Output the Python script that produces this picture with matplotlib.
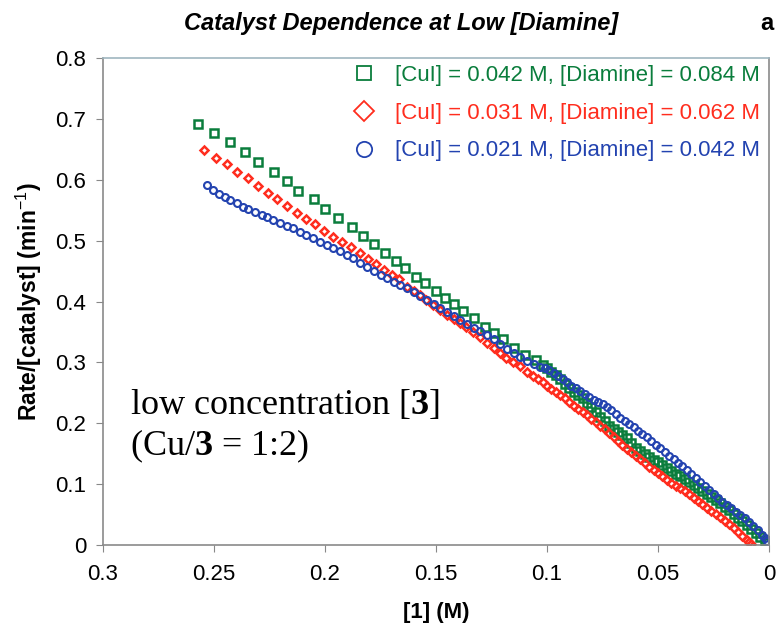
import matplotlib
matplotlib.use("Agg")
import matplotlib.pyplot as plt
from matplotlib.lines import Line2D
from matplotlib.ticker import FormatStrFormatter

# [1] (M) and rate/[catalyst] (min^-1)
green_x = [0.257, 0.250, 0.243, 0.236, 0.230, 0.223, 0.217, 0.212, 0.205, 0.200,
           0.194, 0.188, 0.183, 0.178, 0.173, 0.168, 0.164, 0.159, 0.155, 0.150,
           0.146, 0.142, 0.138, 0.133, 0.128, 0.124, 0.120, 0.115, 0.110, 0.105,
           0.102, 0.100,
           0.098, 0.096, 0.094, 0.092, 0.090, 0.088, 0.086, 0.084, 0.082, 0.080,
           0.078, 0.076, 0.074, 0.072, 0.070, 0.068, 0.066, 0.064, 0.062, 0.060,
           0.058, 0.056, 0.054, 0.052, 0.050, 0.048, 0.046, 0.044, 0.042, 0.040,
           0.038, 0.036, 0.034, 0.032, 0.030, 0.028, 0.026, 0.024, 0.022, 0.020,
           0.018, 0.016, 0.014, 0.012, 0.010, 0.008, 0.006, 0.004, 0.002, 0.001]
green_y = [0.691, 0.677, 0.662, 0.645, 0.629, 0.612, 0.598, 0.581, 0.568, 0.552,
           0.537, 0.522, 0.507, 0.494, 0.480, 0.466, 0.455, 0.440, 0.430, 0.417,
           0.406, 0.396, 0.384, 0.373, 0.358, 0.348, 0.338, 0.323, 0.312, 0.304,
           0.296, 0.290,
           0.284, 0.279, 0.273, 0.265, 0.258, 0.252, 0.247, 0.242, 0.234, 0.226,
           0.219, 0.211, 0.203, 0.196, 0.191, 0.186, 0.181, 0.176, 0.168, 0.160,
           0.154, 0.150, 0.145, 0.140, 0.136, 0.131, 0.126, 0.122, 0.117, 0.113,
           0.109, 0.104, 0.099, 0.094, 0.089, 0.084, 0.079, 0.074, 0.069, 0.063,
           0.057, 0.051, 0.045, 0.039, 0.033, 0.027, 0.020, 0.013, 0.006, 0.003]

red_x = [0.2545, 0.2491, 0.2441, 0.2396, 0.2347, 0.2302, 0.2257, 0.2216, 0.2171, 0.2126,
         0.2086, 0.2045, 0.2005, 0.1964, 0.1923, 0.1883, 0.1842, 0.1806, 0.1770, 0.1735,
         0.1700, 0.1665, 0.1631, 0.1600, 0.1572, 0.1543, 0.1514, 0.1482, 0.1450, 0.1420,
         0.1392, 0.1363, 0.1333, 0.1302, 0.1270, 0.1240, 0.1212, 0.1183, 0.1153, 0.1120,
         0.1090, 0.1063,
         0.104, 0.102, 0.100, 0.098, 0.096, 0.094, 0.092, 0.090, 0.088, 0.086,
         0.084, 0.082, 0.080, 0.078, 0.076, 0.074, 0.072, 0.070, 0.068, 0.066,
         0.064, 0.062, 0.060, 0.058, 0.056, 0.054, 0.052, 0.050, 0.048, 0.046,
         0.044, 0.042, 0.040, 0.038, 0.036, 0.034, 0.032, 0.030, 0.028, 0.026,
         0.024, 0.022, 0.020, 0.018, 0.016, 0.014, 0.012, 0.010, 0.009, 0.008]
red_y = [0.649, 0.636, 0.626, 0.613, 0.603, 0.590, 0.578, 0.568, 0.557, 0.545,
         0.535, 0.527, 0.516, 0.506, 0.498, 0.489, 0.479, 0.470, 0.461, 0.452,
         0.444, 0.437, 0.424, 0.417, 0.411, 0.402, 0.394, 0.386, 0.378, 0.371,
         0.365, 0.358, 0.350, 0.341, 0.332, 0.323, 0.315, 0.308, 0.301, 0.294,
         0.284, 0.278,
         0.273, 0.268, 0.262, 0.257, 0.252, 0.246, 0.241, 0.235, 0.229, 0.224,
         0.218, 0.213, 0.207, 0.202, 0.196, 0.190, 0.184, 0.177, 0.171, 0.165,
         0.158, 0.153, 0.147, 0.141, 0.135, 0.128, 0.123, 0.118, 0.113, 0.107,
         0.102, 0.097, 0.093, 0.088, 0.083, 0.077, 0.072, 0.067, 0.061, 0.056,
         0.051, 0.046, 0.040, 0.034, 0.028, 0.022, 0.015, 0.009, 0.005, 0.002]

blue_x = [0.2532, 0.2505, 0.2477, 0.2450, 0.2428, 0.2396, 0.2369, 0.2347, 0.2315, 0.2284,
          0.2261, 0.2234, 0.2203, 0.2171, 0.2144, 0.2113, 0.2086, 0.2054, 0.2023, 0.1991,
          0.1964, 0.1932, 0.1901, 0.1874, 0.1842, 0.1811, 0.178, 0.175, 0.172, 0.169,
          0.166, 0.163, 0.160, 0.157, 0.154, 0.151, 0.148, 0.145, 0.142, 0.139,
          0.136, 0.133, 0.130, 0.127, 0.124, 0.121, 0.118, 0.115, 0.112, 0.109,
          0.106, 0.103,
          0.101, 0.099, 0.097, 0.095, 0.093, 0.091, 0.089, 0.087, 0.085, 0.083,
          0.081, 0.079, 0.077, 0.075, 0.073, 0.071, 0.069, 0.067, 0.065, 0.063,
          0.061, 0.059, 0.057, 0.055, 0.053, 0.051, 0.049, 0.047, 0.045, 0.043,
          0.041, 0.039, 0.037, 0.035, 0.033, 0.031, 0.029, 0.027, 0.025, 0.023,
          0.021, 0.019, 0.017, 0.015, 0.013, 0.011, 0.009, 0.007, 0.005, 0.003,
          0.002, 0.001]
blue_y = [0.591, 0.583, 0.576, 0.571, 0.566, 0.562, 0.555, 0.552, 0.547, 0.542,
          0.539, 0.534, 0.529, 0.524, 0.521, 0.514, 0.509, 0.504, 0.498, 0.493,
          0.488, 0.483, 0.476, 0.471, 0.463, 0.456, 0.450, 0.443, 0.438, 0.432,
          0.427, 0.422, 0.416, 0.409, 0.403, 0.396, 0.389, 0.383, 0.376, 0.369,
          0.363, 0.357, 0.351, 0.345, 0.338, 0.330, 0.322, 0.315, 0.309, 0.303,
          0.297, 0.292,
          0.290, 0.288, 0.283, 0.277, 0.272, 0.267, 0.262, 0.258, 0.253, 0.248,
          0.243, 0.239, 0.235, 0.231, 0.227, 0.222, 0.215, 0.208, 0.203, 0.199,
          0.194, 0.188, 0.182, 0.177, 0.171, 0.165, 0.159, 0.153, 0.147, 0.141,
          0.135, 0.129, 0.123, 0.117, 0.110, 0.104, 0.097, 0.090, 0.084, 0.077,
          0.071, 0.066, 0.060, 0.055, 0.050, 0.044, 0.038, 0.031, 0.024, 0.016,
          0.011, 0.006]

labels = ["[CuI] = 0.042 M, [Diamine] = 0.084 M",
          "[CuI] = 0.031 M, [Diamine] = 0.062 M",
          "[CuI] = 0.021 M, [Diamine] = 0.042 M"]
x_ticks = [0.3, 0.25, 0.2, 0.15, 0.1, 0.05, 0]
y_ticks = [0, 0.1, 0.2, 0.3, 0.4, 0.5, 0.6, 0.7, 0.8]

GREEN = "#0a7d3c"
RED = "#ff2d1e"
BLUE = "#2343b0"

plt.rcParams["font.family"] = ["Liberation Sans", "DejaVu Sans"]
plt.rcParams["mathtext.fontset"] = "custom"
plt.rcParams["mathtext.rm"] = "Liberation Serif"
plt.rcParams["mathtext.bf"] = "Liberation Serif:bold"
plt.rcParams["mathtext.sf"] = "Liberation Sans"

fig = plt.figure(figsize=(7.79, 6.23), dpi=100)
ax = fig.add_axes([0.1322, 0.1252, 0.855, 0.7817])

ax.plot(green_x, green_y, ls="none", marker="s", ms=6, mfc="none", mec=GREEN, mew=1.8)
ax.plot(red_x, red_y, ls="none", marker="D", ms=4.2, mfc="none", mec=RED, mew=1.8)
ax.plot(blue_x, blue_y, ls="none", marker="o", ms=5, mfc="none", mec=BLUE, mew=1.5)

ax.set_xlim(0.3, 0)
ax.set_ylim(0, 0.8)
ax.set_xticks(x_ticks)
ax.set_yticks(y_ticks)
ax.xaxis.set_major_formatter(FormatStrFormatter("%g"))
ax.yaxis.set_major_formatter(FormatStrFormatter("%g"))
ax.tick_params(direction="out", length=5, color="#888888", labelsize=16)
ax.tick_params(axis="x", pad=9)
ax.tick_params(axis="y", pad=7)
for side in ax.spines:
    ax.spines[side].set_color("#8a8a8a")
    ax.spines[side].set_linewidth(1.2)
ax.spines["top"].set_color("#9fb6c0")

ax.set_xlabel("[1] (M)", fontsize=16, fontweight="bold", labelpad=12)
ax.set_ylabel("Rate/[catalyst] (min$^{\\mathsf{-1}}$)", fontsize=16.5, fontweight="bold", labelpad=8)
fig.text(0.515, 0.963, "Catalyst Dependence at Low [Diamine]", ha="center", va="center",
         fontsize=17, fontweight="bold", style="italic")
fig.text(0.993, 0.963, "a", ha="right", va="center", fontsize=17, fontweight="bold")

handles = [
    Line2D([], [], ls="none", marker="s", ms=9.5, mfc="none", mec=GREEN, mew=1.3),
    Line2D([], [], ls="none", marker="D", ms=10, mfc="none", mec=RED, mew=1.3),
    Line2D([], [], ls="none", marker="o", ms=11, mfc="none", mec=BLUE, mew=1.3),
]
leg = ax.legend(handles, labels, loc="upper right", frameon=False, fontsize=16,
                handlelength=1.0, handletextpad=0.9, labelspacing=0.75,
                borderpad=0.1, borderaxespad=0, bbox_to_anchor=(0.99, 0.99))
for txt, col in zip(leg.get_texts(), [GREEN, RED, BLUE]):
    txt.set_color(col)

serif = ["Liberation Serif", "DejaVu Serif"]
ax.text(0.04, 0.27, "low concentration [$\\mathbf{3}$]", transform=ax.transAxes,
        va="baseline", fontsize=26, family=serif)
ax.text(0.04, 0.185, "(Cu/$\\mathbf{3}$ = 1:2)", transform=ax.transAxes,
        va="baseline", fontsize=26, family=serif)

fig.savefig("out.png", dpi=100)
